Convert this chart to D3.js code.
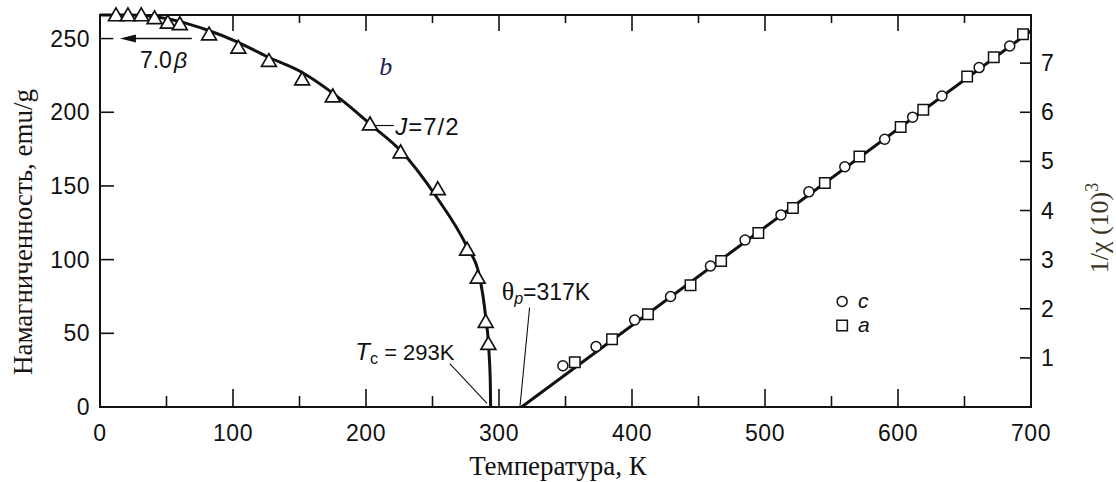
<!DOCTYPE html>
<html>
<head>
<meta charset="utf-8">
<script src="https://d3js.org/d3.v7.min.js"></script>
<title>Gd: намагниченность и 1/χ</title>
<style>
body { margin: 0; background: #fff; }
</style>
</head>
<body>
<script>

// magnetization points (triangles), T in K, M in emu/g
var triT = [12, 21, 31, 41, 51, 60, 82, 104, 127, 152, 175, 203, 226, 254, 276, 284, 290, 292];
var triM = [265, 265, 265, 263, 260, 259, 252, 243, 234, 221.5, 210, 191, 172, 147, 106, 87, 57, 42];

// J = 7/2 curve
var curveT = [0, 20, 40, 60, 80, 104, 125, 152, 175, 189, 203, 226, 253, 276, 285, 290, 292.5, 293.5, 293.7];
var curveM = [266, 266, 265, 261.5, 256, 247.5, 238, 227, 213, 203, 192, 174, 142.5, 108.6, 90, 61, 37, 15, 0];

// inverse susceptibility, c axis (circles) and a axis (squares)
var cT = [348, 373, 402, 429, 459, 485, 512, 533, 560, 590, 611, 633, 661, 684];
var cV = [0.84, 1.23, 1.77, 2.25, 2.87, 3.40, 3.91, 4.38, 4.89, 5.45, 5.90, 6.33, 6.91, 7.35];
var aT = [357, 385, 412, 444, 467, 495, 521, 545, 571, 602, 619, 652, 672, 694];
var aV = [0.91, 1.38, 1.89, 2.48, 2.97, 3.54, 4.05, 4.56, 5.10, 5.70, 6.05, 6.73, 7.12, 7.59];

// Curie-Weiss line
var lineT = [317, 700];
var lineV = [0, 7.66];

var xMajor = [0, 100, 200, 300, 400, 500, 600, 700];
var xMinor = [50, 150, 250, 350, 450, 550, 650];
var yLeftTicks = [0, 50, 100, 150, 200, 250];
var yRightTicks = [1, 2, 3, 4, 5, 6, 7];

var width = 1116,
    height = 482;

var svg = d3.select("body")
  .append("svg")
  .attr("width", width)
  .attr("height", height);

var x = d3.scaleLinear().domain([0, 700]).range([100, 1031]);
var yL = d3.scaleLinear().domain([0, 266]).range([407, 15]);
var yR = d3.scaleLinear().domain([0, 7.98]).range([407, 15]);

var sans = "'Liberation Sans', Arial, sans-serif";
var serif = "'Liberation Serif', 'Times New Roman', serif";

// frame
svg.append("rect")
  .attr("x", x(0)).attr("y", yL(266))
  .attr("width", x(700) - x(0)).attr("height", yL(0) - yL(266))
  .attr("fill", "none").attr("stroke", "#111").attr("stroke-width", 2);

var ticks = svg.append("g").attr("stroke", "#111").attr("stroke-width", 1.6);

// bottom and top ticks, pointing inside
xMajor.slice(1, -1).forEach(function(t) {
  ticks.append("line").attr("x1", x(t)).attr("x2", x(t)).attr("y1", yL(0)).attr("y2", yL(0) - 18);
  ticks.append("line").attr("x1", x(t)).attr("x2", x(t)).attr("y1", yL(266)).attr("y2", yL(266) + 16);
});
xMinor.forEach(function(t) {
  ticks.append("line").attr("x1", x(t)).attr("x2", x(t)).attr("y1", yL(0)).attr("y2", yL(0) - 11);
  ticks.append("line").attr("x1", x(t)).attr("x2", x(t)).attr("y1", yL(266)).attr("y2", yL(266) + 8);
});
yLeftTicks.slice(1, -1).forEach(function(v) {
  ticks.append("line").attr("x1", x(0)).attr("x2", x(0) + 14).attr("y1", yL(v)).attr("y2", yL(v));
});
yRightTicks.forEach(function(v) {
  ticks.append("line").attr("x1", x(700)).attr("x2", x(700) - 11).attr("y1", yR(v)).attr("y2", yR(v));
});

// tick labels
svg.append("g").selectAll("text")
  .data(xMajor).enter().append("text")
  .attr("x", function(d) { return x(d); })
  .attr("y", yL(0) + 34)
  .attr("text-anchor", "middle")
  .attr("font-family", sans).attr("font-size", 23).attr("letter-spacing", 0.5).attr("fill", "#111")
  .text(function(d) { return d; });

svg.append("g").selectAll("text")
  .data(yLeftTicks).enter().append("text")
  .attr("x", x(0) - 10)
  .attr("y", function(d) { return yL(d) + 8; })
  .attr("text-anchor", "end")
  .attr("font-family", sans).attr("font-size", 23).attr("letter-spacing", 0.5).attr("fill", "#111")
  .text(function(d) { return d; });

svg.append("g").selectAll("text")
  .data(yRightTicks).enter().append("text")
  .attr("x", x(700) + 10)
  .attr("y", function(d) { return yR(d) + 8; })
  .attr("font-family", sans).attr("font-size", 23).attr("fill", "#111")
  .text(function(d) { return d; });

// axis titles
svg.append("text")
  .attr("x", 558).attr("y", 475)
  .attr("text-anchor", "middle")
  .attr("font-family", serif).attr("font-size", 27).attr("fill", "#111")
  .text("Температура, К");

svg.append("text")
  .attr("transform", "translate(32,232) rotate(-90)")
  .attr("text-anchor", "middle")
  .attr("font-family", serif).attr("font-size", 27).attr("fill", "#1a1410")
  .text("Намагниченность, emu/g");

var rt = svg.append("text")
  .attr("transform", "translate(1108,228) rotate(-90)")
  .attr("text-anchor", "middle")
  .attr("font-family", serif).attr("font-size", 26).attr("fill", "#3b3322");
rt.append("tspan").text("1/χ (10)");
rt.append("tspan").attr("dy", -10).attr("font-size", 18).text("3");

// J = 7/2 curve
var magLine = d3.line()
  .x(function(i) { return x(curveT[i]); })
  .y(function(i) { return yL(curveM[i]); })
  .curve(d3.curveMonotoneX);

svg.append("path")
  .attr("d", magLine(d3.range(curveT.length)))
  .attr("fill", "none").attr("stroke", "#111").attr("stroke-width", 3);

// Curie-Weiss line
svg.append("line")
  .attr("x1", x(lineT[0])).attr("y1", yR(lineV[0]))
  .attr("x2", x(lineT[1])).attr("y2", yR(lineV[1]))
  .attr("stroke", "#111").attr("stroke-width", 3);

// markers
var tri = d3.symbol().type(d3.symbolTriangle).size(95);
svg.append("g").selectAll("path")
  .data(d3.range(triT.length)).enter().append("path")
  .attr("d", tri)
  .attr("transform", function(i) { return "translate(" + x(triT[i]) + "," + yL(triM[i]) + ")"; })
  .attr("fill", "#fff").attr("stroke", "#111").attr("stroke-width", 1.7);

svg.append("g").selectAll("circle")
  .data(d3.range(cT.length)).enter().append("circle")
  .attr("cx", function(i) { return x(cT[i]); })
  .attr("cy", function(i) { return yR(cV[i]); })
  .attr("r", 5)
  .attr("fill", "#fff").attr("stroke", "#111").attr("stroke-width", 1.5);

var sq = d3.symbol().type(d3.symbolSquare).size(110);
svg.append("g").selectAll("path")
  .data(d3.range(aT.length)).enter().append("path")
  .attr("d", sq)
  .attr("transform", function(i) { return "translate(" + x(aT[i]) + "," + yR(aV[i]) + ")"; })
  .attr("fill", "#fff").attr("stroke", "#111").attr("stroke-width", 1.5);

// legend
svg.append("circle")
  .attr("cx", x(558)).attr("cy", yR(2.15)).attr("r", 5)
  .attr("fill", "#fff").attr("stroke", "#111").attr("stroke-width", 1.5);
svg.append("path")
  .attr("d", sq)
  .attr("transform", "translate(" + x(558) + "," + yR(1.66) + ")")
  .attr("fill", "#fff").attr("stroke", "#111").attr("stroke-width", 1.5);
svg.append("text")
  .attr("x", x(570)).attr("y", yR(2.15) + 7)
  .attr("font-family", sans).attr("font-style", "italic").attr("font-size", 21).attr("fill", "#111")
  .text("c");
svg.append("text")
  .attr("x", x(570)).attr("y", yR(1.66) + 7)
  .attr("font-family", sans).attr("font-style", "italic").attr("font-size", 21).attr("fill", "#111")
  .text("a");

// 7.0 beta arrow at 250 emu/g
svg.append("line")
  .attr("x1", x(0)).attr("x2", x(10)).attr("y1", yL(250)).attr("y2", yL(250))
  .attr("stroke", "#111").attr("stroke-width", 1.5);
svg.append("line")
  .attr("x1", x(20)).attr("x2", x(69)).attr("y1", yL(250)).attr("y2", yL(250))
  .attr("stroke", "#111").attr("stroke-width", 1.5);
svg.append("path")
  .attr("d", "M" + x(15) + "," + yL(250) + "l16,-4l0,8z")
  .attr("fill", "#111");
var beta = svg.append("text")
  .attr("x", x(30)).attr("y", yL(230))
  .attr("font-family", sans).attr("font-size", 23).attr("fill", "#111");
beta.append("tspan").text("7.0");
beta.append("tspan").attr("font-style", "italic").attr("dx", 2).text("β");

// b
svg.append("text")
  .attr("x", x(210)).attr("y", yL(225))
  .attr("font-family", serif).attr("font-style", "italic").attr("font-size", 26).attr("fill", "#1c2450")
  .text("b");

// J = 7/2 label
svg.append("line")
  .attr("x1", x(207)).attr("x2", x(221)).attr("y1", yL(191)).attr("y2", yL(191))
  .attr("stroke", "#111").attr("stroke-width", 1.2);
var jl = svg.append("text")
  .attr("x", x(222)).attr("y", yL(184.5))
  .attr("font-family", sans).attr("font-size", 24).attr("letter-spacing", 1).attr("fill", "#111");
jl.append("tspan").attr("font-style", "italic").text("J");
jl.append("tspan").text("=7/2");

// Tc label
svg.append("line")
  .attr("x1", x(263)).attr("y1", yL(29.5))
  .attr("x2", x(291)).attr("y2", yL(2.5))
  .attr("stroke", "#111").attr("stroke-width", 1.1);
var tc = svg.append("text")
  .attr("x", x(192)).attr("y", yL(32))
  .attr("font-family", sans).attr("font-size", 22).attr("fill", "#111");
tc.append("tspan").attr("font-style", "italic").attr("font-size", 24).text("T");
tc.append("tspan").attr("font-size", 16).attr("dy", 4).text("c");
tc.append("tspan").attr("dy", -4).text(" = 293K");

// theta_p label
svg.append("line")
  .attr("x1", x(323)).attr("y1", yL(67.5))
  .attr("x2", x(315.8)).attr("y2", yL(0.7))
  .attr("stroke", "#111").attr("stroke-width", 1.1);
var tp = svg.append("text")
  .attr("x", x(302)).attr("y", yL(72.5))
  .attr("font-family", sans).attr("font-size", 23).attr("fill", "#111");
tp.append("tspan").attr("font-family", serif).attr("font-size", 26).text("θ");
tp.append("tspan").attr("font-style", "italic").attr("font-size", 16).attr("dy", 4).text("p");
tp.append("tspan").attr("dy", -4).text("=317K");

</script>
</body>
</html>
